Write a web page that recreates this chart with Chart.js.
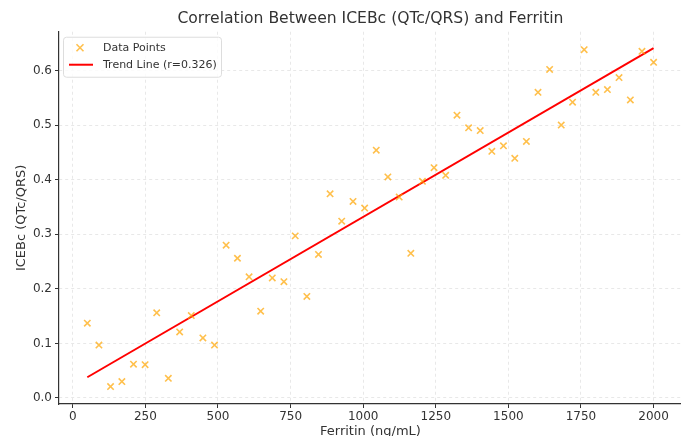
<!DOCTYPE html>
<html>
<head>
<meta charset="utf-8">
<script src="https://cdn.jsdelivr.net/npm/chart.js@4"></script>
<style>
  html, body { margin: 0; padding: 0; background: #fff; overflow: hidden; }
  #wrap { width: 681px; height: 436px; overflow: hidden; }
</style>
</head>
<body>
<div id="wrap"><canvas id="chart" width="688" height="436"></canvas></div>
<script>
// Ferritin (ng/mL) values
const ferritin = [
  50, 90, 130, 169, 209, 249, 289, 329, 368, 408,
  448, 488, 528, 567, 607, 647, 687, 727, 766, 806,
  846, 886, 926, 965, 1005, 1045, 1085, 1124, 1164, 1204,
  1244, 1284, 1323, 1363, 1403, 1443, 1483, 1522, 1562, 1602,
  1642, 1682, 1721, 1761, 1801, 1841, 1881, 1920, 1960, 2000
];
// ICEBc (QTc/QRS) values
const icebc = [
  0.137, 0.097, 0.021, 0.030, 0.062, 0.061, 0.156, 0.036, 0.121, 0.151,
  0.110, 0.097, 0.280, 0.256, 0.222, 0.159, 0.220, 0.213, 0.297, 0.186,
  0.263, 0.374, 0.324, 0.360, 0.348, 0.454, 0.405, 0.368, 0.265, 0.397,
  0.422, 0.408, 0.518, 0.495, 0.490, 0.452, 0.462, 0.439, 0.470, 0.560,
  0.602, 0.500, 0.542, 0.638, 0.560, 0.565, 0.587, 0.546, 0.635, 0.615
];
// trend line end points
const trendX = [50, 2000];
const trendY = [0.038, 0.641];

const xTicks = [0, 250, 500, 750, 1000, 1250, 1500, 1750, 2000];
const yTicks = [0.0, 0.1, 0.2, 0.3, 0.4, 0.5, 0.6];

const pontos = ferritin.map((x, i) => ({ x: x, y: icebc[i] }));
const linha = trendX.map((x, i) => ({ x: x, y: trendY[i] }));

const ORANGE = "rgba(255, 165, 0, 0.7)";
const TXT = "#333333";
const FONT = "'DejaVu Sans', sans-serif";

// legenda dentro do gráfico, com caixa
const boxLegend = {
  id: "boxLegend",
  afterDraw(chart) {
    const { ctx, chartArea } = chart;
    const x0 = chartArea.left + 4, y0 = chartArea.top + 5;
    const w = 158, h = 40;
    ctx.save();
    ctx.fillStyle = "rgba(255,255,255,0.8)";
    ctx.strokeStyle = "#dddddd";
    ctx.lineWidth = 1;
    ctx.beginPath();
    ctx.roundRect(x0 + 0.5, y0 + 0.5, w, h, 3);
    ctx.fill();
    ctx.stroke();

    ctx.font = "11px " + FONT;
    ctx.fillStyle = TXT;
    ctx.textBaseline = "middle";
    const ds = chart.data.datasets;

    // marcador x
    const mx = x0 + 17, my = y0 + 11;
    ctx.strokeStyle = ORANGE;
    ctx.lineWidth = 1.6;
    ctx.beginPath();
    ctx.moveTo(mx - 3.5, my - 3.5); ctx.lineTo(mx + 3.5, my + 3.5);
    ctx.moveTo(mx + 3.5, my - 3.5); ctx.lineTo(mx - 3.5, my + 3.5);
    ctx.stroke();
    ctx.fillText(ds[0].label, x0 + 40, my);

    // linha vermelha
    const ly = y0 + 28;
    ctx.strokeStyle = "red";
    ctx.lineWidth = 2;
    ctx.beginPath();
    ctx.moveTo(x0 + 6, ly); ctx.lineTo(x0 + 30, ly);
    ctx.stroke();
    ctx.fillText(ds[1].label, x0 + 40, ly);
    ctx.restore();
  }
};

new Chart(document.getElementById("chart"), {
  type: "scatter",
  plugins: [boxLegend],
  data: {
    datasets: [
      {
        label: "Data Points",
        data: pontos,
        pointStyle: "crossRot",
        pointRadius: 4.5,
        pointHoverRadius: 4.5,
        borderColor: ORANGE,
        backgroundColor: ORANGE,
        pointBorderWidth: 1.6
      },
      {
        type: "line",
        label: "Trend Line (r=0.326)",
        data: linha,
        borderColor: "red",
        borderWidth: 2,
        pointRadius: 0,
        fill: false
      }
    ]
  },
  options: {
    responsive: false,
    animation: false,
    layout: { padding: 0 },
    plugins: {
      legend: { display: false },
      tooltip: { enabled: false },
      title: {
        display: true,
        fullSize: false,
        text: "Correlation Between ICEBc (QTc/QRS) and Ferritin",
        color: TXT,
        font: { family: FONT, size: 15.6, weight: "normal" },
        padding: { top: 10, bottom: 3 }
      }
    },
    scales: {
      x: {
        type: "linear",
        min: -47.5,
        max: 2097.5,
        afterBuildTicks: s => { s.ticks = xTicks.map(v => ({ value: v })); },
        afterFit: s => { s.height = 32; },
        ticks: {
          color: TXT,
          font: { family: FONT, size: 12 },
          padding: 2,
          maxRotation: 0,
          callback: v => String(v)
        },
        grid: { color: "#e8e8e8", tickColor: "#333", tickLength: 4, lineWidth: 1 },
        border: { color: "#333", width: 1.2, dash: [3, 3] },
        title: {
          display: true,
          text: "Ferritin (ng/mL)",
          color: TXT,
          font: { family: FONT, size: 13 },
          padding: { top: 0, bottom: -3 }
        }
      },
      y: {
        min: -0.011,
        max: 0.671,
        afterBuildTicks: s => { s.ticks = yTicks.map(v => ({ value: v })); },
        afterFit: s => { s.width = 59; },
        ticks: {
          color: TXT,
          font: { family: FONT, size: 12 },
          padding: 3,
          callback: v => v.toFixed(1)
        },
        grid: { color: "#e8e8e8", tickColor: "#333", tickLength: 4, lineWidth: 1 },
        border: { color: "#333", width: 1.2, dash: [3, 3] },
        title: {
          display: true,
          text: "ICEBc (QTc/QRS)",
          color: TXT,
          font: { family: FONT, size: 13 },
          padding: { top: 14, bottom: 0 }
        }
      }
    }
  }
});
</script>
</body>
</html>
